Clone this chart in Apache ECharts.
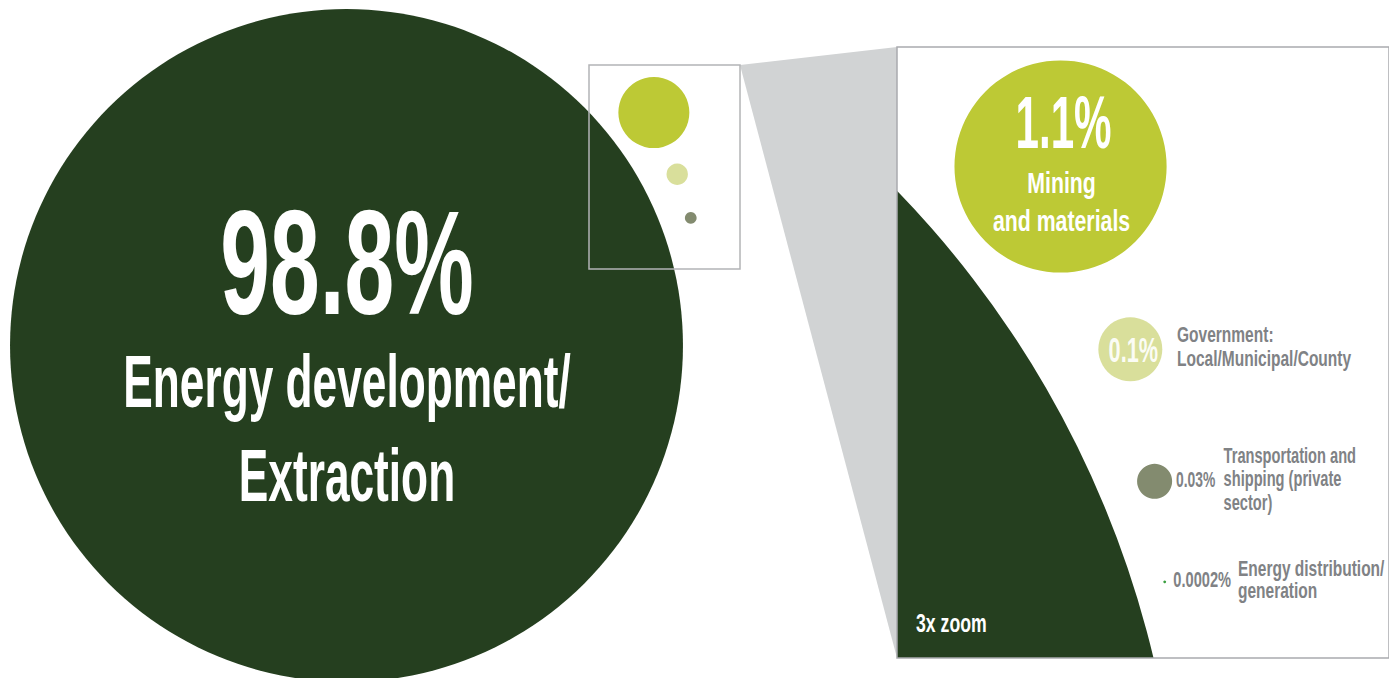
<!DOCTYPE html>
<html>
<head>
<meta charset="utf-8">
<script src="https://cdn.jsdelivr.net/npm/echarts@6/dist/echarts.min.js"></script>
<style>
  html, body { margin: 0; padding: 0; background: #ffffff; }
  #chart { width: 1389px; height: 678px; }
</style>
</head>
<body>
<div id="chart"></div>
<script>
// Share of disturbance by sector; bubble area is proportional to the share.
const sectors = [
  'Energy development/\nExtraction',
  'Mining\nand materials',
  'Government:\nLocal/Municipal/County',
  'Transportation and\nshipping (private\nsector)',
  'Energy distribution/\ngeneration'
];
const shares = [98.8, 1.1, 0.1, 0.03, 0.0002];
const shareText = ['98.8%', '1.1%', '0.1%', '0.03%', '0.0002%'];

// ---- layout -------------------------------------------------------------
const W = 1389, H = 678;
const UNIT = 33.85;                 // px per axis unit in the overview
const ORIGIN = [346.5, 345.5];      // px of the overview axis origin
const MAG = 3;                      // magnification of the detail panel
const ZOOM_BOX = { left: 897, top: 47, width: 494, height: 611 };
const ZOOM_WIN = { x0: 7.463, y1: 8.057 };          // detail panel window (axis units)
const INSET = { x0: 7.164, x1: 11.625, y0: 2.26, y1: 8.287 }; // outline in the overview

// bubble centres in axis units (radius = sqrt(share))
const overviewPos = [[0, 0], [9.08, 6.88], [9.77, 5.06], [10.17, 3.77], [10.44, 2.85]];
const zoomPos = [[0.33, -0.254], [9.08, 6.88], [9.77, 5.08], [10.01, 3.78], [10.11, 2.79]];

const colors = ['#253f1f', '#bdc935', '#d9df9b', '#838b6f', '#3a9f3f'];
const GREY_TEXT = '#808285';
const FONT = '"Liberation Sans Narrow", "Liberation Sans", sans-serif';

// label placement relative to each bubble centre (px); scale narrows the face
const labelLayout = [
  { value: { dx: 0.5, base: -30.8, size: 149, weight: 'bold', scale: 0.6, color: '#ffffff', align: 'center' },
    name:  { dx: 0.5, base: 61.5, step: 94, size: 75, weight: 'bold', scale: 0.59, color: '#ffffff', align: 'center' } },
  { value: { dx: 3, base: -18.5, size: 74, weight: 'bold', scale: 0.57, color: '#ffffff', align: 'center' },
    name:  { dx: 1, base: 26.5, step: 38.4, size: 30, weight: 'bold', scale: 0.71, color: '#ffffff', align: 'center' } },
  { value: { dx: 3, base: 12.7, size: 35, weight: 'bold', scale: 0.62, color: 'rgba(255,255,255,0.92)', align: 'center' },
    name:  { dx: 46.7, base: -6.7, step: 23.7, size: 22.5, weight: 'bold', scale: 0.69, color: GREY_TEXT, align: 'left' } },
  { value: { dx: 21.4, base: 5.6, size: 22, weight: 'bold', scale: 0.63, color: GREY_TEXT, align: 'left' },
    name:  { dx: 69, base: -18.4, step: 23.4, size: 22, weight: 'bold', scale: 0.665, color: GREY_TEXT, align: 'left' } },
  { value: { dx: 8.6, base: 5.4, size: 22, weight: 'bold', scale: 0.665, color: GREY_TEXT, align: 'left' },
    name:  { dx: 73.3, base: -5.6, step: 21.8, size: 22, weight: 'bold', scale: 0.705, color: GREY_TEXT, align: 'left' } }
];

function textEl(x, baseline, spec, str) {
  return {
    type: 'text',
    x: x,
    y: baseline - spec.size * 0.35,
    scaleX: spec.scale,
    silent: true,
    style: {
      text: str,
      fill: spec.color,
      fontSize: spec.size,
      fontWeight: spec.weight || 'normal',
      fontFamily: FONT,
      align: spec.align,
      verticalAlign: 'middle'
    }
  };
}

function labelEls(i, cx, cy) {
  const L = labelLayout[i];
  const els = [textEl(cx + L.value.dx, cy + L.value.base, L.value, shareText[i])];
  sectors[i].split('\n').forEach(function (line, k) {
    els.push(textEl(cx + L.name.dx, cy + L.name.base + k * L.name.step, L.name, line));
  });
  return els;
}

function bubble(api) {
  const i = api.value(3);
  const c = api.coord([api.value(0), api.value(1)]);
  const r = api.size([Math.sqrt(api.value(2)), 0])[0];
  return { i: i, c: c, el: { type: 'circle', shape: { cx: c[0], cy: c[1], r: r }, style: { fill: colors[i] } } };
}

const overviewData = shares.map(function (v, i) { return [overviewPos[i][0], overviewPos[i][1], v, i]; });
const zoomData = shares.map(function (v, i) { return [zoomPos[i][0], zoomPos[i][1], v, i]; });

const chart = echarts.init(document.getElementById('chart'), null, { renderer: 'svg' });

chart.setOption({
  animation: false,
  backgroundColor: '#ffffff',
  grid: [
    { left: 0, top: 0, width: W, height: H, containLabel: false },
    { left: ZOOM_BOX.left, top: ZOOM_BOX.top, width: ZOOM_BOX.width, height: ZOOM_BOX.height, containLabel: false }
  ],
  xAxis: [
    { gridIndex: 0, type: 'value', show: false, min: -ORIGIN[0] / UNIT, max: (W - ORIGIN[0]) / UNIT },
    { gridIndex: 1, type: 'value', show: false, min: ZOOM_WIN.x0, max: ZOOM_WIN.x0 + ZOOM_BOX.width / (MAG * UNIT) }
  ],
  yAxis: [
    { gridIndex: 0, type: 'value', show: false, min: -(H - ORIGIN[1]) / UNIT, max: ORIGIN[1] / UNIT },
    { gridIndex: 1, type: 'value', show: false, min: ZOOM_WIN.y1 - ZOOM_BOX.height / (MAG * UNIT), max: ZOOM_WIN.y1 }
  ],
  series: [
    {
      name: 'overview',
      type: 'custom',
      xAxisIndex: 0, yAxisIndex: 0,
      data: overviewData,
      z: 2,
      renderItem: function (params, api) {
        const b = bubble(api);
        const children = [b.el];
        if (b.i === 0) children.push.apply(children, labelEls(0, b.c[0], b.c[1]));
        return { type: 'group', children: children };
      }
    },
    {
      name: 'inset',
      type: 'custom',
      xAxisIndex: 0, yAxisIndex: 0,
      data: [[0]],
      z: 3,
      renderItem: function (params, api) {
        const tl = api.coord([INSET.x0, INSET.y1]);
        const br = api.coord([INSET.x1, INSET.y0]);
        const tr = [br[0], tl[1]];
        return {
          type: 'group',
          children: [
            { type: 'polygon', shape: { points: [tr, [ZOOM_BOX.left, ZOOM_BOX.top], [ZOOM_BOX.left, ZOOM_BOX.top + ZOOM_BOX.height]] },
              style: { fill: '#d1d3d4' } },
            { type: 'rect', shape: { x: tl[0], y: tl[1], width: br[0] - tl[0], height: br[1] - tl[1] },
              style: { fill: 'none', stroke: '#b3b4b6', lineWidth: 1.5 } }
          ]
        };
      }
    },
    {
      name: 'detail',
      type: 'custom',
      xAxisIndex: 1, yAxisIndex: 1,
      data: zoomData,
      z: 4,
      renderItem: function (params, api) {
        const cs = params.coordSys;
        const b = bubble(api);
        const children = [b.el];
        if (b.i > 0) children.push.apply(children, labelEls(b.i, b.c[0], b.c[1]));
        return {
          type: 'group',
          clipPath: { type: 'rect', shape: { x: cs.x, y: cs.y, width: cs.width, height: cs.height } },
          children: children
        };
      }
    },
    {
      name: 'detail frame',
      type: 'custom',
      xAxisIndex: 1, yAxisIndex: 1,
      data: [[0]],
      z: 5,
      renderItem: function (params) {
        const cs = params.coordSys;
        return {
          type: 'group',
          children: [
            { type: 'rect', shape: { x: cs.x, y: cs.y, width: cs.width, height: cs.height },
              style: { fill: 'none', stroke: '#a9abae', lineWidth: 1.5 } },
            textEl(cs.x + 19, cs.y + cs.height - 25.7,
              { size: 26, weight: 'bold', scale: 0.68, color: '#ffffff', align: 'left' }, MAG + 'x zoom')
          ]
        };
      }
    }
  ]
});
</script>
</body>
</html>
